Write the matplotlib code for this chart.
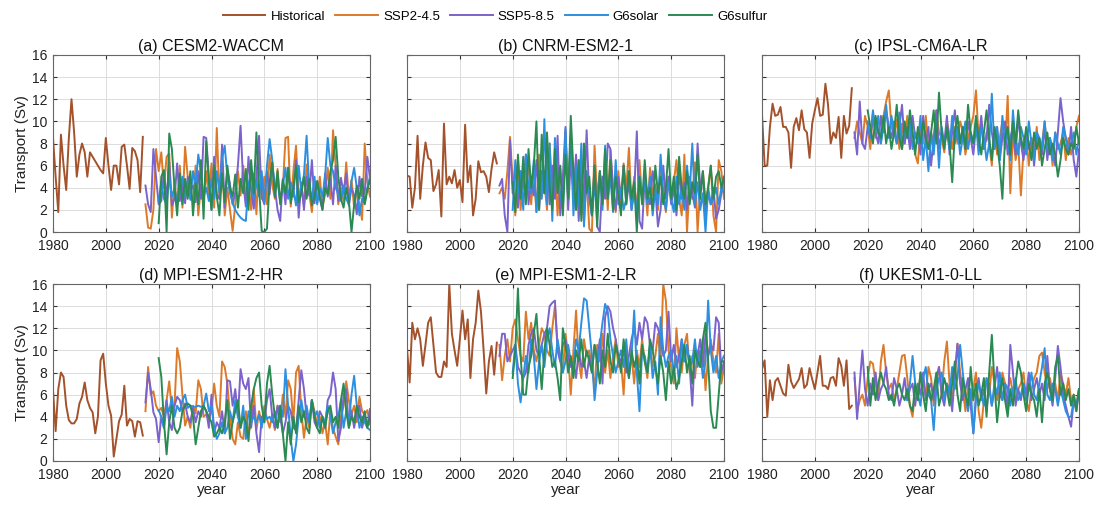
import numpy as np
import matplotlib
matplotlib.use("Agg")
import matplotlib.pyplot as plt

plt.rcParams['font.family'] = ['Liberation Sans', 'DejaVu Sans']

models = ["(a) CESM2-WACCM", "(b) CNRM-ESM2-1", "(c) IPSL-CM6A-LR",
          "(d) MPI-ESM1-2-HR", "(e) MPI-ESM1-2-LR", "(f) UKESM1-0-LL"]
series_names = ["Historical", "SSP2-4.5", "SSP5-8.5", "G6solar", "G6sulfur"]

# Historical 1980-2014
hist_a = [8.5,5.0,1.8,8.8,6.0,3.8,8.5,12.0,9.0,5.0, 7.0,8.0,7.2,5.0,7.2,6.8,6.4,6.0,5.6,5.3,
          8.5,6.0,3.8,6.0,6.0,4.3,7.7,7.9,6.0,3.9, 7.6,7.3,6.5,3.6,8.6]
hist_b = [5.1,5.0,2.2,4.0,8.7,3.0,6.0,8.1,6.7,6.5, 3.7,4.3,5.6,1.4,9.8,4.3,5.0,4.4,5.6,4.0,
          4.7,2.7,9.7,4.5,6.0,1.5,3.0,6.4,5.4,5.5, 5.0,3.6,5.7,7.2,6.2]
hist_c = [10.6,6.0,6.0,9.5,11.6,10.5,10.6,11.3,9.5,9.5, 9.0,5.8,9.5,10.3,9.2,11.0,9.3,9.0,6.7,9.8,
          11.0,12.1,10.5,10.6,13.4,11.5,8.0,9.0,8.5,10.4, 6.7,10.5,8.9,9.6,13.0]
hist_d = [6.4,2.7,6.5,8.0,7.6,5.0,3.7,3.4,3.4,3.8, 5.2,5.8,7.1,5.5,4.8,4.4,2.5,4.0,9.1,9.7,
          7.0,5.0,4.1,0.4,2.0,3.6,4.2,6.8,3.2,3.8, 3.6,2.2,3.6,3.5,2.3]
hist_e = [10.2,7.1,12.5,11.0,12.0,11.0,8.6,10.5,12.5,13.0, 10.5,8.0,7.6,7.6,9.0,8.5,16.0,11.5,10.0,8.6,
          11.0,13.6,11.0,12.8,7.5,11.0,12.5,15.4,13.5,10.0, 6.1,9.0,10.4,7.8,10.7]
hist_f = [8.3,9.1,4.0,7.3,5.5,7.2,7.5,6.8,6.1,5.9, 8.7,7.2,6.6,7.0,7.4,8.4,6.6,6.9,8.4,7.4,
          6.5,8.0,9.5,6.8,6.8,6.5,7.5,7.6,6.8,9.3, 8.6,6.8,9.1,4.7,5.0]

# SSP scenarios 2015-2100; G6 runs end in 2100 (start = 2101 - length)
ssp245_a = [2.5,0.4,0.3,2.0,7.5,5.5,7.2,4.0,6.8,7.1, 1.3,4.5,2.5,6.0,2.2,7.7,5.0,3.5,2.8,6.0,
            1.5,4.2,2.7,5.5,3.0,6.2,2.2,9.4,3.0,6.5, 1.5,4.0,2.0,0.1,2.5,5.5,3.3,6.0,3.0,4.5,
            2.0,5.3,1.6,6.8,3.0,5.0,2.5,7.0,4.3,3.0, 5.7,2.7,4.0,8.5,8.6,2.3,5.5,7.8,3.0,4.2,
            2.4,6.1,3.5,1.8,4.5,2.7,5.0,2.3,3.4,5.8, 3.0,9.2,6.0,2.5,4.0,2.8,6.3,3.0,4.7,2.2,
            3.8,2.5,1.1,8.0,4.5,3.2]
ssp585_a = [4.2,2.5,1.8,7.5,5.0,2.5,2.8,5.5,3.0,6.3, 2.4,3.0,6.2,2.8,4.5,2.6,5.0,3.8,4.2,2.7,
            5.5,3.0,8.6,8.5,5.0,2.0,6.8,3.4,3.0,7.9, 2.2,5.6,4.3,2.5,3.6,6.0,9.6,4.5,2.3,6.8,
            3.8,2.1,5.0,8.7,3.2,2.5,5.5,3.4,6.2,4.0, 2.0,1.0,4.8,2.5,5.8,3.6,3.2,6.5,1.3,4.5,
            2.0,5.0,3.3,6.5,2.6,4.6,3.0,2.0,5.3,3.2, 4.8,2.5,6.0,2.8,4.9,3.5,5.3,2.4,4.0,3.3,
            1.6,5.0,3.2,3.6,6.8,4.8]
g6solar_a = [2.8,4.5,3.0,2.5,5.0,3.2,4.0,2.6,3.5,5.0, 3.2,4.5,2.9,5.5,4.2,7.0,5.5,3.2,4.0,2.8,
             4.8,3.0,5.5,3.6,6.6,7.8,5.0,3.5,2.6,2.0, 1.6,1.3,1.1,1.0,4.3,5.5,3.0,4.6,3.2,5.5,
             2.6,6.0,8.4,6.5,3.5,4.6,2.8,4.2,5.8,3.0, 4.5,3.8,2.4,6.0,3.6,5.2,8.7,4.0,3.0,5.0,
             2.5,4.0,3.2,5.0,8.5,6.0,5.5,4.0,3.4,2.8, 4.2,3.0,2.5,4.6,5.8,4.0,1.5,3.0,2.6,4.0,
             5.0]
g6sulfur_a = [0.8,5.0,5.6,0.0,8.9,7.5,4.0,1.5,5.3,2.5, 4.8,3.0,5.5,1.5,4.4,2.5,6.5,1.2,8.2,4.5,
              2.0,6.0,3.2,1.5,5.3,2.7,6.0,4.0,3.2,5.2, 2.2,4.8,3.5,5.7,2.0,6.5,3.5,9.0,4.0,0.1,
              0.0,0.3,4.5,6.3,3.2,5.5,2.5,4.7,3.5,5.8, 2.6,4.0,6.0,2.7,3.5,5.0,3.0,4.8,2.4,3.2,
              4.6,3.2,2.0,4.0,3.4,5.5,6.5,8.6,5.0,3.0, 2.2,4.0,2.8,0.0,2.5,4.2,3.0,4.8,2.5,3.8,
              4.7]

ssp245_b = [3.5,4.0,3.0,5.5,8.6,4.5,1.5,6.5,2.0,5.0, 3.0,6.8,2.5,5.5,1.8,7.0,3.2,4.5,2.0,8.0,
            3.5,6.0,1.5,5.8,2.8,9.0,3.0,8.6,4.0,2.0, 6.5,3.3,1.0,5.0,0.3,0.0,7.8,3.0,5.5,2.5,
            6.0,2.0,7.4,3.5,1.8,5.5,2.6,6.2,3.8,7.6, 2.5,5.0,1.6,6.5,3.0,4.6,1.5,5.8,3.3,4.3,
            2.0,6.0,3.5,1.8,5.0,2.8,4.5,6.5,3.0,1.5, 7.0,0.0,4.5,3.0,6.3,0.0,4.0,5.5,2.5,4.0,
            6.0,1.5,0.0,6.5,5.5,3.0]
ssp585_b = [4.2,4.8,1.5,0.0,8.3,3.5,6.0,2.2,5.5,4.0, 7.0,2.5,5.0,3.3,6.5,2.0,5.5,3.5,7.5,2.5,
            6.0,3.0,8.7,1.5,5.0,9.5,2.0,6.5,3.5,7.0, 1.0,5.5,2.5,9.2,3.0,1.5,6.0,0.5,0.0,5.0,
            3.0,8.0,7.5,4.0,2.0,5.0,3.0,6.0,2.5,4.5, 2.0,3.5,9.1,1.0,0.3,5.0,3.5,2.5,5.5,3.8,
            0.5,2.0,6.0,3.0,5.0,2.5,4.0,1.5,5.5,3.0, 4.5,2.0,5.0,3.5,2.2,8.0,4.0,5.0,1.5,3.5,
            2.5,4.0,1.2,2.0,3.5,5.0]
g6solar_b = [2.0,6.5,3.5,5.5,2.0,7.0,4.0,3.5,6.5,1.8, 5.5,3.0,10.2,2.5,8.0,1.0,8.5,5.0,3.5,2.0,
             9.3,3.0,8.8,1.5,6.0,2.5,8.0,0.5,5.5,3.5, 1.5,4.0,2.5,5.5,2.0,7.8,3.0,5.0,1.8,6.5,
             2.5,4.0,2.0,3.0,5.5,2.0,4.5,1.5,5.0,3.0, 4.5,2.5,5.0,1.5,4.0,2.5,7.0,3.5,2.0,4.5,
             3.0,1.8,5.0,2.5,4.0,2.0,6.0,3.5,8.0,2.5, 4.5,2.0,3.5,0.0,4.0,2.5,3.0,4.0,2.5,4.0,
             3.5]
g6sulfur_b = [4.5,1.8,7.0,3.0,6.8,2.5,7.5,4.0,6.0,10.0, 2.0,8.8,3.5,9.0,4.0,2.0,7.5,3.5,6.0,1.5,
              7.0,3.0,10.5,5.5,2.0,6.5,1.0,8.0,3.5,5.0, 1.5,6.0,0.5,5.5,2.5,7.5,3.0,6.5,2.0,5.0,
              3.5,1.5,6.0,2.5,5.5,3.0,4.5,0.0,5.0,2.5, 6.5,3.0,4.0,2.0,6.0,3.5,5.0,2.5,4.0,7.5,
              3.0,5.0,2.0,6.8,4.0,3.0,5.5,2.5,4.5,3.5, 7.0,3.0,5.5,2.5,4.0,6.0,3.0,5.0,5.5,4.0,
              5.0]

ssp245_c = [8.5,10.0,9.0,8.0,10.5,9.5,7.5,10.8,8.5,9.3, 8.0,10.5,11.8,12.8,9.5,8.8,10.2,7.5,9.8,8.0,
            10.5,8.5,9.0,7.0,6.2,9.5,8.0,10.5,7.5,9.0, 8.0,11.0,9.0,8.5,7.2,10.0,8.8,7.5,9.5,8.0,
            10.0,9.2,7.0,8.5,9.5,10.5,12.8,8.5,10.0,7.5, 9.0,8.0,6.0,9.5,7.0,8.5,10.0,7.5,12.3,3.5,
            9.0,6.5,8.0,3.3,7.5,9.0,6.0,8.5,7.0,9.5, 6.5,8.0,10.0,7.0,8.5,6.0,9.0,7.5,8.0,9.0,
            6.5,8.5,7.0,8.0,9.5,10.5]
ssp585_c = [9.0,7.0,11.8,8.0,7.5,9.5,8.5,10.5,9.0,8.0, 10.5,9.0,11.0,9.5,8.5,10.0,8.0,9.5,11.5,8.0,
            9.5,7.5,10.5,8.5,9.0,7.0,10.5,8.0,9.5,6.0, 8.5,11.0,7.5,9.0,8.0,10.5,7.0,9.0,11.0,8.5,
            8.0,9.5,7.5,10.0,8.5,7.0,9.5,8.0,10.5,7.5, 8.5,11.5,9.0,7.5,9.5,6.5,8.5,10.0,7.0,8.5,
            9.5,7.0,10.5,8.0,6.5,9.0,7.5,8.5,6.0,9.0, 8.0,7.0,9.5,6.5,8.5,7.5,6.0,9.0,12.1,10.0,
            8.5,7.0,9.5,6.5,5.0,7.5]
g6solar_c = [10.0,8.5,11.0,9.0,10.5,8.0,9.5,11.5,8.5,10.5, 9.0,8.0,10.8,7.5,9.5,8.5,10.0,7.5,9.0,8.0,
             10.5,6.5,8.5,5.5,9.0,7.0,10.0,5.8,9.5,8.0, 9.0,7.5,10.5,8.0,9.5,7.0,8.5,10.0,7.5,9.0,
             8.0,10.0,7.0,9.5,8.5,6.5,8.0,12.5,7.5,9.5, 6.5,10.5,8.0,9.0,6.5,11.0,8.0,7.0,9.5,8.5,
             7.0,10.0,8.0,6.5,9.0,8.5,7.5,10.0,7.5,8.5, 6.5,9.0,8.0,7.0,9.5,8.5,7.5,8.0,9.0,7.0,
             8.5]
g6sulfur_c = [11.0,9.5,8.0,10.5,9.0,8.5,10.5,8.0,9.5,7.5, 9.0,11.5,8.5,7.5,10.0,8.5,11.0,9.0,7.0,9.5,
              8.0,10.0,8.5,7.5,9.0,11.0,8.0,12.6,9.0,7.5, 9.5,8.0,4.5,9.0,10.5,8.0,9.5,7.5,11.5,9.0,
              8.0,10.5,8.5,7.0,9.0,11.0,8.5,6.5,9.5,8.0, 6.0,3.0,8.5,9.5,7.0,10.0,8.0,11.0,8.5,7.5,
              9.5,8.0,6.5,9.0,7.5,8.5,6.0,7.5,9.0,7.0, 8.0,7.0,5.0,6.5,8.5,7.5,7.0,8.0,7.5,9.5,
              8.0]

ssp245_d = [4.5,8.5,6.0,6.3,5.0,4.5,4.8,4.0,5.5,7.2, 4.5,5.0,10.2,9.0,6.0,3.2,4.0,3.0,5.0,4.3,
            7.3,6.5,4.0,4.2,3.8,4.5,7.0,5.0,4.0,9.0, 8.5,7.0,4.0,2.0,1.5,3.5,2.2,2.0,4.5,2.5,
            3.5,6.5,2.8,4.5,3.5,5.0,3.8,3.0,4.2,2.8, 5.0,3.5,6.0,4.0,7.3,6.5,3.5,8.0,8.6,4.5,
            2.1,4.0,3.0,5.5,4.5,3.2,4.0,2.5,3.5,1.5, 4.5,3.0,2.2,1.5,4.0,5.0,7.2,5.5,4.2,5.0,
            3.5,5.8,4.5,4.2,4.6,3.3]
ssp585_d = [5.3,8.0,6.5,4.4,3.8,1.7,4.0,3.0,5.5,3.5, 2.8,5.0,5.8,5.5,4.5,5.2,4.0,3.5,4.8,3.5,
            4.5,4.0,5.0,4.5,3.0,6.0,2.5,3.5,3.0,4.5, 2.5,7.3,7.2,5.0,6.5,4.0,8.3,7.0,6.5,7.5,
            3.0,5.0,2.5,0.8,4.0,3.5,5.5,6.5,4.0,3.0, 5.0,4.0,2.5,3.5,5.0,4.5,3.0,2.8,5.5,8.2,
            6.5,4.0,3.5,5.5,3.5,3.0,4.5,4.0,3.0,5.5, 6.0,8.0,6.5,1.8,3.0,6.0,6.5,3.0,4.5,3.0,
            4.5,5.0,3.0,4.0,3.2,4.7]
g6solar_d = [4.6,4.0,3.0,5.0,4.5,5.8,4.0,5.0,4.5,5.5, 6.0,4.8,5.0,4.9,4.9,5.0,4.9,5.0,6.1,4.5,
             5.0,3.0,2.0,2.5,3.5,2.5,3.0,4.5,3.5,5.5, 4.0,3.0,5.0,2.0,4.5,3.5,4.0,3.5,4.2,3.0,
             4.5,3.8,4.0,3.5,4.5,3.0,5.0,4.0,8.3,5.0, 2.0,0.0,1.5,4.0,5.5,4.0,5.0,3.5,5.5,4.0,
             4.5,3.0,4.0,3.5,5.0,4.0,2.5,3.5,4.0,5.5, 3.0,4.5,3.5,6.0,7.7,5.0,3.0,4.0,3.5,3.0,
             2.8]
g6sulfur_d = [9.3,7.6,3.5,0.6,3.5,5.0,3.0,2.5,3.0,4.5, 5.0,5.2,5.0,4.0,1.5,3.0,4.5,5.0,4.5,4.0,
              3.5,2.2,2.5,3.0,2.5,3.5,5.5,2.0,3.5,4.5, 5.5,3.0,4.0,3.5,1.8,5.0,6.5,7.5,8.0,5.0,
              3.5,7.0,8.6,6.0,4.0,3.0,5.0,2.5,0.0,3.5, 1.5,4.0,2.5,5.0,3.5,4.5,3.0,2.5,5.5,4.0,
              3.0,2.5,4.0,3.0,4.5,5.0,3.5,4.0,3.0,5.5, 7.0,4.5,3.0,4.0,3.5,5.0,4.0,3.5,4.5,3.0,
              4.0]

ssp245_e = [10.5,7.3,9.5,11.0,9.0,12.0,12.8,11.0,9.5,9.0, 13.5,11.0,12.5,10.0,9.0,10.5,12.0,11.5,10.0,9.5,
            12.0,14.0,10.5,9.0,8.0,11.5,9.5,6.0,10.0,13.6, 9.0,7.5,11.0,9.5,10.0,8.5,6.5,10.5,9.0,11.5,
            8.0,10.0,7.5,9.5,11.0,8.5,9.0,6.0,10.5,8.0, 9.5,7.0,10.0,8.5,11.0,9.0,7.5,10.5,8.5,9.5,
            11.5,9.0,16.0,14.5,10.0,8.5,7.0,12.0,9.0,8.0, 10.5,11.5,8.0,9.5,7.5,10.0,8.5,11.0,6.4,9.5,
            11.0,9.0,8.0,11.5,7.0,8.5]
ssp585_e = [9.5,11.5,11.5,9.0,9.5,10.0,10.5,8.5,8.0,7.5, 8.0,10.5,11.5,12.0,10.0,9.5,10.5,11.5,12.0,14.0,
            14.3,14.5,10.0,9.0,10.5,11.0,9.5,8.5,9.0,7.5, 10.0,8.5,9.0,7.5,9.5,8.0,10.5,9.0,11.0,7.0,
            13.0,14.0,13.5,12.0,11.0,9.5,9.0,10.0,8.0,9.5, 11.0,12.0,10.5,12.5,11.0,13.0,12.5,10.5,10.0,12.5,
            12.0,11.0,9.5,10.0,13.5,9.0,10.5,8.5,9.5,11.0, 9.0,10.5,8.5,5.0,10.0,9.5,11.0,8.5,11.5,9.5,
            10.5,10.0,13.0,12.5,8.0,9.0]
g6solar_e = [8.0,10.5,7.0,5.3,7.5,9.5,8.0,11.0,9.5,6.5, 9.0,10.5,8.5,11.0,12.0,10.0,8.5,11.0,9.5,8.0,
             9.0,10.5,9.0,8.5,11.0,10.0,12.5,14.7,14.5,12.0, 9.5,5.5,8.0,10.5,12.5,14.2,13.5,11.0,9.5,8.0,
             9.0,10.0,8.5,11.0,7.5,9.5,13.6,8.0,4.5,10.0, 9.5,8.0,10.5,7.5,9.0,6.0,13.0,10.0,8.5,9.5,
             10.0,8.0,9.5,7.0,11.0,9.0,10.5,8.5,9.0,11.0, 8.5,10.0,7.5,9.0,14.5,10.0,8.0,9.5,7.5,9.0,
             9.5]
g6sulfur_e = [7.5,10.0,15.6,9.5,6.0,6.0,8.5,9.5,11.5,13.3, 9.5,6.5,10.0,12.0,10.5,8.5,9.0,7.5,5.5,12.0,
              10.5,8.0,9.5,7.5,10.0,9.0,11.0,8.5,10.0,9.0, 8.0,10.5,9.0,7.0,10.0,8.5,11.5,9.0,8.0,10.5,
              9.5,8.0,11.0,9.0,7.5,10.0,8.5,9.5,7.0,10.5, 9.0,8.0,11.0,10.0,8.5,7.0,9.5,8.0,5.5,9.0,
              7.0,8.5,6.5,7.5,9.0,10.5,8.0,9.5,7.0,10.0, 9.0,8.5,11.0,12.5,9.0,4.5,3.0,3.0,6.0,9.0,
              9.0]

ssp245_f = [7.5,4.5,5.5,6.0,5.0,7.5,9.0,8.8,7.0,5.5, 9.0,10.5,8.0,6.5,7.0,5.5,6.5,8.0,9.5,9.6,
            7.5,5.0,4.0,6.5,5.5,8.0,7.0,6.0,8.5,7.5, 5.0,7.0,8.5,6.0,9.0,10.8,7.0,5.5,7.5,10.6,
            8.0,6.5,4.5,7.0,5.0,6.5,8.0,4.5,3.0,5.5, 7.5,6.0,8.5,7.0,5.5,6.5,8.0,7.0,6.5,7.5,
            6.0,5.5,6.5,7.0,8.0,5.5,4.5,6.5,7.5,8.0, 9.5,9.8,8.0,6.5,7.5,6.0,7.0,5.5,8.0,7.0,
            6.0,7.5,5.5,6.0,5.0,6.5]
ssp585_f = [8.0,3.8,7.0,10.0,6.5,5.0,7.0,6.0,8.0,5.5, 6.5,7.0,8.5,6.0,5.5,7.5,6.5,5.0,6.0,7.5,
            5.5,6.5,7.0,5.0,7.0,6.0,8.0,5.5,6.5,7.0, 5.5,7.5,8.5,6.0,5.0,7.0,6.5,4.5,8.0,10.6,
            7.0,5.5,6.5,7.5,5.0,2.5,6.0,7.5,5.5,6.5, 4.5,7.0,5.0,6.5,8.5,6.0,5.5,7.0,4.5,10.5,
            8.0,5.0,6.5,5.5,7.0,6.0,8.0,5.5,6.5,7.5, 6.0,7.0,5.5,9.5,6.5,5.0,7.5,10.4,8.5,6.0,
            5.0,4.0,3.1,5.5,4.5,6.5]
g6solar_f = [5.5,7.0,9.5,7.0,6.0,5.0,7.5,8.5,6.0,5.5, 2.8,6.5,7.5,8.0,5.5,7.0,6.0,8.5,6.5,7.5,
             10.5,8.0,6.0,4.5,6.5,2.5,5.5,7.0,6.0,5.0, 7.5,6.5,5.0,7.0,6.0,8.0,5.5,7.0,6.5,5.0,
             6.5,7.5,5.5,6.0,7.0,5.5,6.5,8.0,6.0,5.5, 7.0,8.5,10.2,6.0,5.5,7.0,6.5,5.0,6.5,5.5,
             4.5,4.0,4.0,5.5,5.0,6.5]
g6sulfur_f = [8.5,5.0,7.5,5.5,7.0,8.0,7.0,6.5,5.5,6.0, 5.0,6.5,7.0,6.0,5.5,6.5,5.0,4.5,7.0,5.5,
              8.0,6.0,4.5,7.0,5.5,6.5,8.0,5.0,6.0,7.5, 6.5,5.0,7.0,9.0,6.0,4.5,7.5,6.0,5.0,8.5,
              5.5,7.0,5.0,6.0,7.5,4.0,8.0,11.4,7.0,3.5, 6.0,7.5,5.5,4.0,6.5,5.0,7.0,9.0,8.0,6.0,
              4.5,7.0,6.0,5.5,4.0,6.5,3.5,7.0,8.0,6.5, 5.5,8.5,9.5,6.0,7.0,5.5,6.5,5.0,6.0,4.5,
              6.5]

panels = [
    [hist_a, ssp245_a, ssp585_a, g6solar_a, g6sulfur_a],
    [hist_b, ssp245_b, ssp585_b, g6solar_b, g6sulfur_b],
    [hist_c, ssp245_c, ssp585_c, g6solar_c, g6sulfur_c],
    [hist_d, ssp245_d, ssp585_d, g6solar_d, g6sulfur_d],
    [hist_e, ssp245_e, ssp585_e, g6solar_e, g6sulfur_e],
    [hist_f, ssp245_f, ssp585_f, g6solar_f, g6sulfur_f],
]
colors = ["#A3522B", "#DC7A2A", "#7B62CC", "#2C8FE0", "#2A8A52"]

fig = plt.figure(figsize=(11.06, 5.05), dpi=100)
lefts = [53/1106, 407/1106, 762/1106]
bottoms = [1-232/505, 1-461/505]
w, h = 317/1106, 177/505

handles = []
for i, (title, data) in enumerate(zip(models, panels)):
    r, c = divmod(i, 3)
    ax = fig.add_axes([lefts[c], bottoms[r], w, h])
    for j, (vals, col) in enumerate(zip(data, colors)):
        if j == 0:
            yrs = np.arange(1980, 1980 + len(vals))
        else:
            yrs = np.arange(2101 - len(vals), 2101)
        ln, = ax.plot(yrs, vals, color=col, lw=1.4, label=series_names[j])
        if i == 0:
            handles.append(ln)
    ax.set_xlim(1980, 2100)
    ax.set_ylim(0, 16)
    ax.set_xticks(np.arange(1980, 2101, 20))
    ax.set_yticks(np.arange(0, 17, 2))
    ax.grid(True, color="#DCDCDC", lw=0.7)
    ax.set_axisbelow(True)
    ax.tick_params(direction="in", length=3, top=True, right=True,
                   labelsize=10, colors="#333333", labelcolor="#222222")
    ax.tick_params(axis="x", pad=5)
    ax.tick_params(axis="y", pad=4)
    for s in ax.spines.values():
        s.set_color("#666666")
        s.set_linewidth(0.8)
    if c != 0:
        ax.set_yticklabels([])
    else:
        ax.set_ylabel("Transport (Sv)", fontsize=11, color="#222222", labelpad=2)
    if r == 1:
        ax.set_xlabel("year", fontsize=11, color="#222222", labelpad=1)
    ax.set_title(title, fontsize=11.5, color="#111111", pad=3)

fig.legend(handles=handles, labels=series_names, loc="center",
           bbox_to_anchor=(495/1106, 1-17/505), ncol=5, frameon=False,
           fontsize=9.5, handlelength=3.2, columnspacing=0.8, handletextpad=0.4)

fig.savefig("out.png", dpi=100)
